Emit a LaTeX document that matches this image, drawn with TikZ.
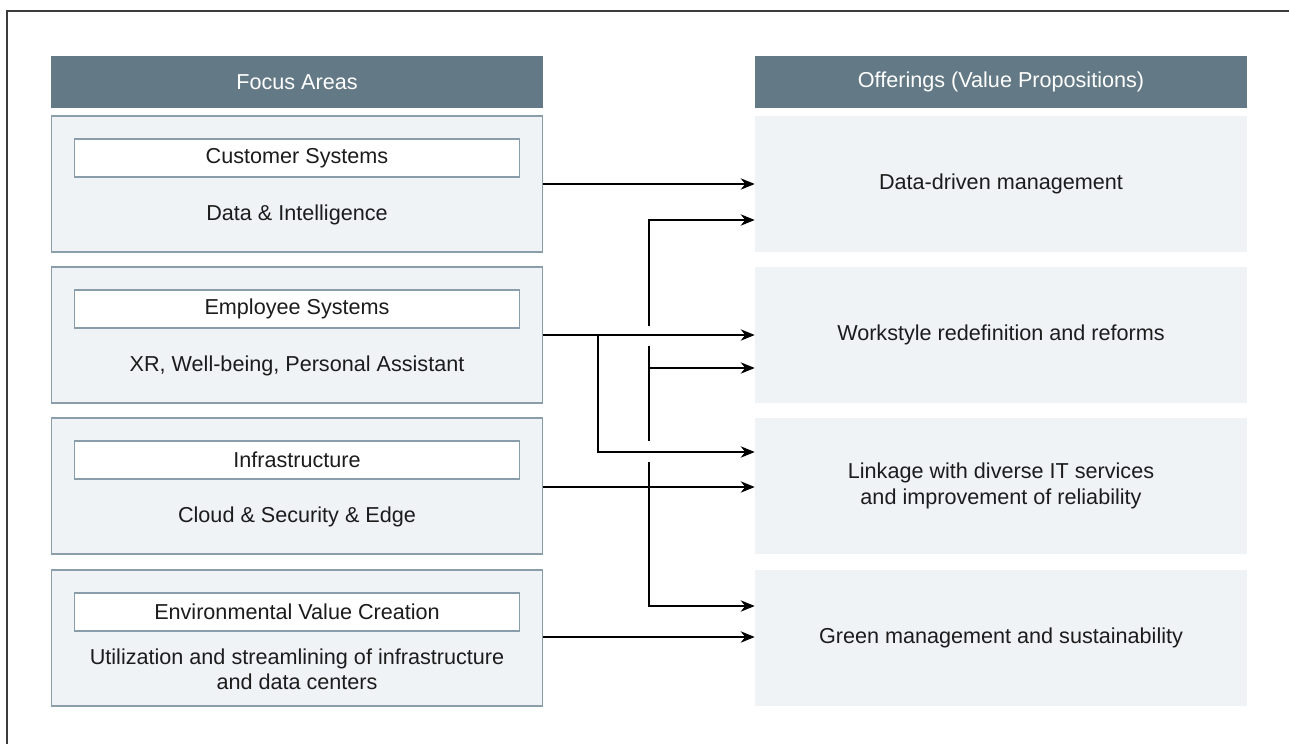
\documentclass[tikz,border=0pt]{standalone}
\usepackage{fontspec}
\setmainfont{Liberation Sans}
\usetikzlibrary{arrows.meta,positioning}
\definecolor{headcol}{RGB}{99,121,133}
\definecolor{boxcol}{RGB}{239,243,246}
\definecolor{edgecol}{RGB}{138,157,170}
\definecolor{txtcol}{RGB}{28,28,28}
\definecolor{framecol}{RGB}{60,60,60}

\begin{document}
\begin{tikzpicture}[x=0.02cm,y=-0.02cm,
   head/.style={fill=headcol,text=white,minimum width=9.84cm,minimum height=1.04cm,
                inner sep=0pt,font=\fontsize{12.3}{14}\selectfont},
   area/.style={fill=boxcol,draw=edgecol,line width=0.6pt,minimum width=9.84cm,
                minimum height=2.72cm,inner sep=0pt},
   offer/.style={fill=boxcol,minimum width=9.84cm,minimum height=2.72cm,inner sep=0pt,
                align=center,text=txtcol,font=\fontsize{12.3}{15}\selectfont},
   tag/.style={fill=white,draw=edgecol,line width=0.6pt,minimum width=8.92cm,
                minimum height=0.76cm,inner sep=0pt,text=txtcol,font=\fontsize{12.3}{14}\selectfont},
   sub/.style={align=center,text=txtcol,inner sep=0pt,font=\fontsize{12.3}{14.4}\selectfont},
   link/.style={line width=0.6pt,-{Stealth[length=8pt,width=6.5pt]}},
   bus/.style={line width=0.6pt}]
  \useasboundingbox (0,0) rectangle (1289,744);
  % ---------- outer frame ----------
  \draw[framecol,line width=0.8pt] (7,744) -- (7,11) -- (1289,11);
  % ---------- headers ----------
  \node[head] (fhead) at (297,82) {Focus Areas};
  \node[head] (vhead) at (1001,82) {Offerings (Value Propositions)};
  % ---------- left column: focus areas ----------
  \foreach \i/\y/\t/\s in {1/184/Customer Systems/{Data \& Intelligence},
      2/335/Employee Systems/{XR, Well-being, Personal Assistant},
      3/486/Infrastructure/{Cloud \& Security \& Edge},
      4/638/Environmental Value Creation/{Utilization and streamlining of infrastructure\\and data centers}}{
    \node[area] (fa\i) at (297,\y) {};
    \node[tag] (tag\i) at (297,\y-26) {\t};
    \node[sub] (sub\i) at (297,\y+31) {\s};
  }
  % ---------- right column: offerings ----------
  \node[offer] (vp1) at (1001,184) {Data-driven management};
  \node[offer] (vp2) at (1001,335) {Workstyle redefinition and reforms};
  \node[offer] (vp3) at (1001,486) {Linkage with diverse IT services\\and improvement of reliability};
  \node[offer] (vp4) at (1001,638) {Green management and sustainability};
  % ---------- connectors ----------
  \draw[link] (fa1.east) -- (vp1.west);
  \draw[link] (fa2.east) -- (vp2.west);
  \draw[link] (fa3.east |- 0,487) -- (vp3.west |- 0,487);
  \draw[link] (fa4.east |- 0,637) -- (vp4.west |- 0,637);
  % employee systems also feed linkage
  \coordinate (split) at (598,335);
  \draw[link] (split) |- (vp3.west |- 0,452);
  % bus with line jumps at y=335 and y=452
  \coordinate (busA) at (649,326);
  \coordinate (busB) at (649,346);
  \coordinate (busC) at (649,441);
  \coordinate (busD) at (649,462);
  \draw[link] (busA) |- (vp1.west |- 0,220);
  \draw[bus] (busB) -- (busC);
  \draw[link] (busB |- 0,368) -- (vp2.west |- 0,368);
  \draw[link] (busD) |- (vp4.west |- 0,606);
\end{tikzpicture}
\end{document}
